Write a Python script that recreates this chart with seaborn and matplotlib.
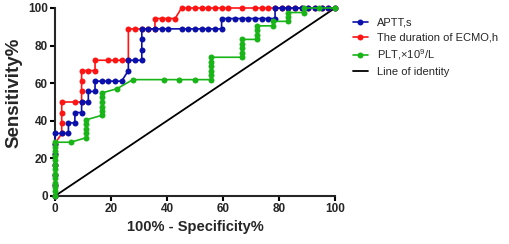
import numpy as np
import pandas as pd
import matplotlib
matplotlib.use('Agg')
import matplotlib.pyplot as plt
import seaborn as sns

# ROC points (x = 100% - specificity, y = sensitivity)
aptt_x = [0, 0, 0, 0, 0, 0, 0, 2.4, 4.8, 4.8, 7.1, 7.1, 9.5, 9.5, 11.9, 11.9, 14.3, 14.3,
          16.7, 19.0, 21.4, 23.8, 26.2, 26.2, 28.6, 31.0, 31.0, 31.0, 31.0, 33.3, 35.7, 38.1,
          40.5, 45.2, 47.6, 50.0, 52.4, 54.8, 57.1, 59.5, 59.5, 61.9, 64.3, 66.7, 69.0, 71.4,
          73.8, 76.2, 78.6, 78.6, 81.0, 83.3, 85.7, 88.1, 90.5, 92.9, 95.2, 97.6, 100]
aptt_y = [0, 5.6, 11.1, 16.7, 22.2, 27.8, 33.3, 33.3, 33.3, 38.9, 38.9, 44.4, 44.4, 50.0, 50.0,
          55.6, 55.6, 61.1, 61.1, 61.1, 61.1, 61.1, 66.7, 72.2, 72.2, 72.2, 77.8, 83.3, 88.9,
          88.9, 88.9, 88.9, 88.9, 88.9, 88.9, 88.9, 88.9, 88.9, 88.9, 88.9, 94.4, 94.4, 94.4,
          94.4, 94.4, 94.4, 94.4, 94.4, 94.4, 100, 100, 100, 100, 100, 100, 100, 100, 100, 100]

ecmo_x = [0, 0, 0, 0, 0, 0, 2.4, 2.4, 2.4, 2.4, 7.1, 9.5, 9.5, 9.5, 9.5, 11.9, 14.3, 14.3,
          19.0, 21.4, 23.8, 26.2, 26.2, 28.6, 31.0, 33.3, 35.7, 35.7, 38.1, 40.5, 42.9, 45.2,
          47.6, 50.0, 52.4, 54.8, 57.1, 59.5, 61.9, 66.7, 71.4, 73.8, 76.2, 78.6, 81.0, 83.3,
          85.7, 88.1, 90.5, 92.9, 95.2, 97.6, 100]
ecmo_y = [0, 5.6, 11.1, 16.7, 22.2, 27.8, 33.3, 38.9, 44.4, 50.0, 50.0, 50.0, 55.6, 61.1, 66.7,
          66.7, 66.7, 72.2, 72.2, 72.2, 72.2, 72.2, 88.9, 88.9, 88.9, 88.9, 88.9, 94.4, 94.4,
          94.4, 94.4, 100, 100, 100, 100, 100, 100, 100, 100, 100, 100, 100, 100, 100, 100, 100,
          100, 100, 100, 100, 100, 100, 100]

plt_x = [0, 0, 0, 0, 0, 0, 0, 0, 0, 0, 0, 0, 0, 5.6, 11.1, 11.1, 11.1, 11.1, 11.1, 16.7, 16.7,
         16.7, 16.7, 16.7, 16.7, 22.2, 27.8, 38.9, 44.4, 50.0, 55.6, 55.6, 55.6, 55.6, 55.6,
         55.6, 66.7, 66.7, 66.7, 66.7, 66.7, 72.2, 72.2, 72.2, 72.2, 77.8, 77.8, 83.3, 83.3,
         83.3, 88.9, 88.9, 94.4, 100]
plt_y = [0, 2.4, 4.8, 7.1, 9.5, 11.9, 14.3, 16.7, 19.0, 21.4, 23.8, 26.2, 28.6, 28.6, 31.0,
         33.3, 35.7, 38.1, 40.5, 42.9, 45.2, 47.6, 50.0, 52.4, 54.8, 57.1, 61.9, 61.9, 61.9,
         61.9, 61.9, 64.3, 66.7, 69.0, 71.4, 73.8, 73.8, 76.2, 78.6, 81.0, 83.3, 83.3, 85.7,
         88.1, 90.5, 90.5, 92.9, 92.9, 95.2, 97.6, 97.6, 100, 100, 100]

identity = [0, 100]

labels = ['APTT,s', 'The duration of ECMO,h', 'PLT,×10$^{9}$/L', 'Line of identity']

sns.set_style('ticks')
plt.rcParams['font.family'] = ['Liberation Sans', 'DejaVu Sans']
plt.rcParams['mathtext.fontset'] = 'custom'
plt.rcParams['mathtext.rm'] = 'Liberation Sans'
plt.rcParams['mathtext.it'] = 'Liberation Sans'

fig = plt.figure(figsize=(5.1, 2.44), dpi=100)
ax = fig.add_axes([55 / 510, 48 / 244, 280 / 510, 188 / 244])

sns.lineplot(x=identity, y=identity, color='black', linewidth=1.3, ax=ax, zorder=3)
style = dict(marker='o', markersize=4.3, markeredgewidth=0, linewidth=1.2, sort=False,
             estimator=None, clip_on=False, ax=ax)
sns.lineplot(x=ecmo_x, y=ecmo_y, color='#FF1414', zorder=4, **style)
sns.lineplot(x=aptt_x, y=aptt_y, color='#0C10AA', zorder=5, **style)
sns.lineplot(x=plt_x, y=plt_y, color='#18B418', zorder=6, **style)

ax.set_xlim(0, 100)
ax.set_ylim(0, 100)
ax.set_xticks([0, 20, 40, 60, 80, 100])
ax.set_yticks([0, 20, 40, 60, 80, 100])
for side in ['top', 'right']:
    ax.spines[side].set_visible(False)
for side in ['left', 'bottom']:
    ax.spines[side].set_linewidth(1.5)
ax.tick_params(length=3.5, width=1.5, labelsize=8.5, pad=1.5, color='black')
for t in ax.get_xticklabels() + ax.get_yticklabels():
    t.set_fontweight('bold')
ax.set_xlabel('100% - Specificity%', fontsize=10.5, fontweight='bold', labelpad=4)
ax.set_ylabel('Sensitivity%', fontsize=13.5, fontweight='bold')
ax.yaxis.set_label_coords(-0.115, 0.55)

lines = ax.get_lines()
handles = [lines[2], lines[1], lines[3], lines[0]]
fig.legend(handles, labels, loc='upper left', bbox_to_anchor=(347 / 510, 1 - 12 / 244),
           frameon=False, fontsize=8, handlelength=1.4, handletextpad=0.8,
           borderpad=0, labelspacing=0.45)

plt.savefig('out.png', dpi=100)
